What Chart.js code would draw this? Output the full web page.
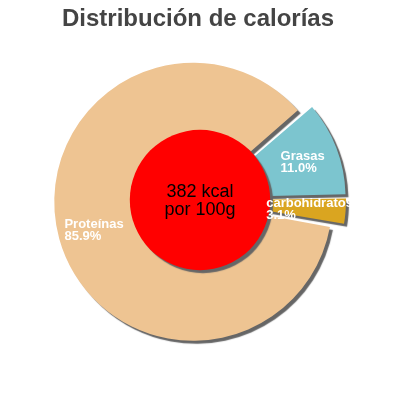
<!DOCTYPE html>
<html>
<head>
<meta charset="utf-8">
<script src="https://cdn.jsdelivr.net/npm/chart.js@4/dist/chart.umd.min.js"></script>
<style>
html,body{margin:0;padding:0;background:#fff;}
#c{display:block;}
</style>
</head>
<body>
<canvas id="c" width="400" height="400"></canvas>
<script>
const titleText = "Distribución de calorías";
const categories = ["Proteínas", "Grasas", "carbohidratos"];
const percentLabels = ["85.9%", "11.0%", "3.1%"];
const values = [85.9, 11.0, 3.1];
const colors = ["#EEC492", "#7CC5CF", "#DAA520"];
const centerLines = ["382 kcal", "por 100g"];

const R = 139;
const OFFSET = 28; // Chart.js translates arcs by offset/4

const radiusFix = {
  id: 'radiusFix',
  afterDatasetUpdate(chart, args) {
    args.meta.data.forEach(arc => {
      const c = arc.circumference;
      const fix = 1 - Math.sin(Math.min(Math.PI, c || 0));
      arc.outerRadius = R - (OFFSET / 4) * fix;
    });
  }
};

const decor = {
  id: 'decor',
  beforeDatasetsDraw(chart) {
    const ctx = chart.ctx;
    ctx.save();
    ctx.shadowColor = '#666666';
    ctx.shadowOffsetX = 3;
    ctx.shadowOffsetY = 3;
    ctx.shadowBlur = 1;
  },
  afterDatasetsDraw(chart) {
    const ctx = chart.ctx;
    const meta = chart.getDatasetMeta(0);
    const a0 = meta.data[0];
    const cx = a0.x, cy = a0.y;
    ctx.beginPath();
    ctx.arc(cx, cy, R * 0.505, 0, Math.PI * 2);
    ctx.fillStyle = '#FF0000';
    ctx.fill();
    ctx.restore();

    ctx.save();
    ctx.fillStyle = '#000';
    ctx.font = '18px "Liberation Sans", Arial, sans-serif';
    ctx.textAlign = 'center';
    ctx.textBaseline = 'alphabetic';
    ctx.fillText(centerLines[0], cx, cy - 3);
    ctx.fillText(centerLines[1], cx, cy + 15);
    ctx.restore();

    ctx.save();
    ctx.fillStyle = '#fff';
    ctx.font = 'bold 13px "Liberation Sans", Arial, sans-serif';
    ctx.textAlign = 'left';
    ctx.textBaseline = 'alphabetic';
    meta.data.forEach((arc, i) => {
      const mid = (arc.startAngle + arc.endAngle) / 2;
      const off = (arc.options.offset || 0) / 4;
      const sx = arc.x + Math.cos(mid) * off;
      const sy = arc.y + Math.sin(mid) * off;
      const px = sx + Math.cos(mid) * R * 0.74;
      const py = sy + Math.sin(mid) * R * 0.74;
      const w = Math.max(ctx.measureText(categories[i]).width, ctx.measureText(percentLabels[i]).width);
      const lx = px - w / 2;
      ctx.fillText(categories[i], lx, py - 1);
      ctx.fillText(percentLabels[i], lx, py + 11);
    });
    ctx.restore();

    ctx.save();
    ctx.fillStyle = '#444444';
    ctx.font = 'bold 24px "Liberation Sans", Arial, sans-serif';
    ctx.textAlign = 'center';
    ctx.textBaseline = 'alphabetic';
    ctx.fillText(titleText, 198, 26);
    ctx.restore();
  }
};

new Chart(document.getElementById('c'), {
  type: 'pie',
  data: {
    labels: categories,
    datasets: [{
      data: values,
      backgroundColor: colors,
      borderWidth: 0,
      offset: OFFSET
    }]
  },
  options: {
    responsive: false,
    devicePixelRatio: 1,
    animation: false,
    rotation: 100,
    radius: R,
    layout: { padding: 0 },
    plugins: {
      legend: { display: false },
      title: { display: false },
      tooltip: { enabled: false }
    },
    events: []
  },
  plugins: [radiusFix, decor]
});
</script>
</body>
</html>
